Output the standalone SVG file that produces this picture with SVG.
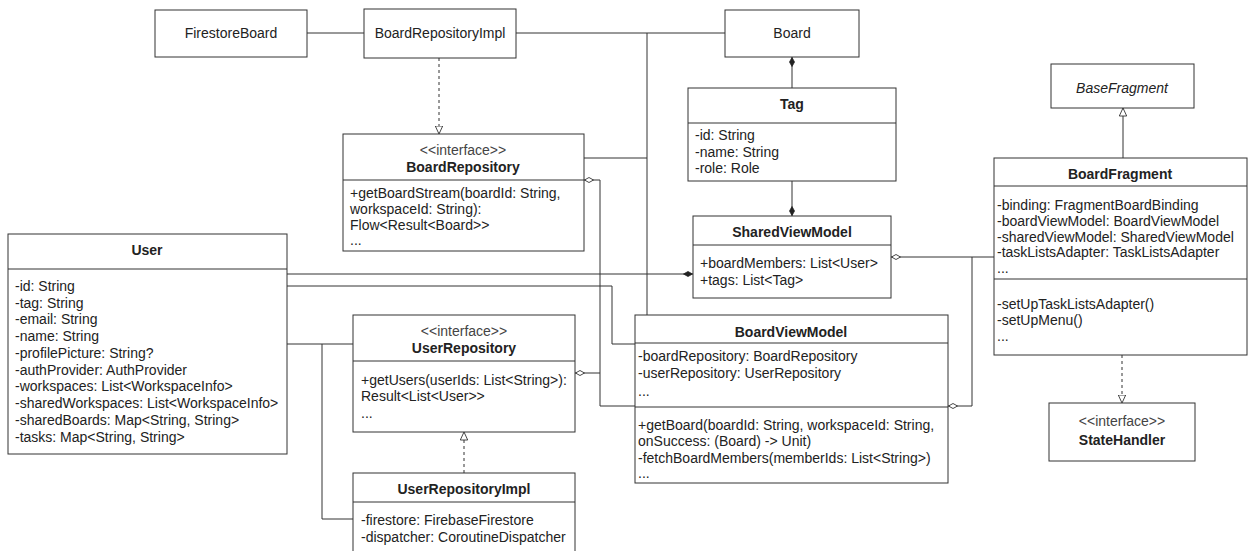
<svg xmlns="http://www.w3.org/2000/svg" width="1256" height="551" viewBox="0 0 1256 551">
<style>
.box{fill:#fff;stroke:#333;stroke-width:1}
.sep{stroke:#333;stroke-width:1}
.ln{fill:none;stroke:#333;stroke-width:1}
.dash{stroke-dasharray:3 3}
text{font-family:"Liberation Sans",Arial,sans-serif;font-size:14px;fill:#222}
.t{font-weight:bold;text-anchor:middle}
.c{text-anchor:middle}
.i{font-style:italic}
.st{fill:#444}
</style>
<defs>
<marker id="dF" viewBox="0 0 10 6" refX="0" refY="3" markerWidth="10" markerHeight="6" markerUnits="userSpaceOnUse" orient="auto"><path d="M0.5 3 L5 0.5 L9.5 3 L5 5.5 Z" fill="#222" stroke="#222" stroke-width="0.8"/></marker>
<marker id="dH" viewBox="0 0 10 6" refX="0" refY="3" markerWidth="10" markerHeight="6" markerUnits="userSpaceOnUse" orient="auto"><path d="M0.5 3 L5 0.5 L9.5 3 L5 5.5 Z" fill="#fff" stroke="#333" stroke-width="0.9"/></marker>
<marker id="tH" viewBox="0 0 9 9" refX="8.5" refY="4.5" markerWidth="9" markerHeight="9" markerUnits="userSpaceOnUse" orient="auto"><path d="M0.5 0.8 L8.5 4.5 L0.5 8.2 Z" fill="#fff" stroke="#333" stroke-width="0.9"/></marker>
</defs>

<g id="connectors">
<path class="ln" d="M307 33 H364"/>
<path class="ln" d="M516 33 H725"/>
<path class="ln" d="M647 33 V315"/>
<path class="ln" d="M584 158 H647"/>
<path class="ln dash" d="M439 58 V134" marker-end="url(#tH)"/>
<path class="ln" d="M792 57 V88" marker-start="url(#dF)"/>
<path class="ln" d="M792 216 V181" marker-start="url(#dF)"/>
<path class="ln" d="M693 274 H287" marker-start="url(#dF)"/>
<path class="ln" d="M287 286 H612 V344 H635"/>
<path class="ln" d="M584 180 H600 V406 H635" marker-start="url(#dH)"/>
<path class="ln" d="M575 373 H600" marker-start="url(#dH)"/>
<path class="ln" d="M287 344 H353"/>
<path class="ln" d="M322 344 V519 H353"/>
<path class="ln dash" d="M464 473 V432" marker-end="url(#tH)"/>
<path class="ln" d="M891 257 H994" marker-start="url(#dH)"/>
<path class="ln" d="M948 406 H972 V257" marker-start="url(#dH)"/>
<path class="ln" d="M1123 158 V108" marker-end="url(#tH)"/>
<path class="ln dash" d="M1122 355 V403" marker-end="url(#tH)"/>
</g>

<g id="FirestoreBoard">
<rect class="box" x="155" y="10" width="152" height="47"/>
<text class="c" x="231" y="38">FirestoreBoard</text>
</g>

<g id="BoardRepositoryImpl">
<rect class="box" x="364" y="9" width="152" height="49"/>
<text class="c" x="440" y="38">BoardRepositoryImpl</text>
</g>

<g id="Board">
<rect class="box" x="725" y="10" width="134" height="47"/>
<text class="c" x="792" y="38">Board</text>
</g>

<g id="Tag">
<rect class="box" x="688" y="88" width="208" height="93"/>
<line class="sep" x1="688" y1="123" x2="896" y2="123"/>
<text class="t" x="792" y="109">Tag</text>
<text x="695" y="140">-id: String</text>
<text x="695" y="157">-name: String</text>
<text x="695" y="173">-role: Role</text>
</g>

<g id="BoardRepository">
<rect class="box" x="343" y="134" width="241" height="117"/>
<line class="sep" x1="343" y1="180" x2="584" y2="180"/>
<text class="c st" x="463" y="155">&lt;&lt;interface&gt;&gt;</text>
<text class="t" x="463" y="172">BoardRepository</text>
<text x="350" y="198">+getBoardStream(boardId: String,</text>
<text x="350" y="214">workspaceId: String):</text>
<text x="350" y="230">Flow&lt;Result&lt;Board&gt;&gt;</text>
<text x="350" y="245">...</text>
</g>

<g id="SharedViewModel">
<rect class="box" x="693" y="216" width="198" height="82"/>
<line class="sep" x1="693" y1="245" x2="891" y2="245"/>
<text class="t" x="792" y="237">SharedViewModel</text>
<text x="700" y="268">+boardMembers: List&lt;User&gt;</text>
<text x="700" y="285">+tags: List&lt;Tag&gt;</text>
</g>

<g id="BaseFragment">
<rect class="box" x="1051" y="64" width="143" height="44"/>
<text class="c i" x="1122" y="93">BaseFragment</text>
</g>

<g id="BoardFragment">
<rect class="box" x="994" y="158" width="253" height="197"/>
<line class="sep" x1="994" y1="186" x2="1247" y2="186"/>
<line class="sep" x1="994" y1="279" x2="1247" y2="279"/>
<text class="t" x="1120" y="179">BoardFragment</text>
<text x="997" y="210">-binding: FragmentBoardBinding</text>
<text x="997" y="226">-boardViewModel: BoardViewModel</text>
<text x="997" y="242">-sharedViewModel: SharedViewModel</text>
<text x="997" y="257">-taskListsAdapter: TaskListsAdapter</text>
<text x="997" y="273">...</text>
<text x="997" y="309">-setUpTaskListsAdapter()</text>
<text x="997" y="325">-setUpMenu()</text>
<text x="997" y="341">...</text>
</g>

<g id="StateHandler">
<rect class="box" x="1049" y="403" width="146" height="58"/>
<text class="c st" x="1122" y="426">&lt;&lt;interface&gt;&gt;</text>
<text class="t" x="1122" y="445">StateHandler</text>
</g>

<g id="User">
<rect class="box" x="8" y="234" width="279" height="220"/>
<line class="sep" x1="8" y1="269" x2="287" y2="269"/>
<text class="t" x="147" y="255">User</text>
<text x="15" y="291">-id: String</text>
<text x="15" y="308">-tag: String</text>
<text x="15" y="324">-email: String</text>
<text x="15" y="341">-name: String</text>
<text x="15" y="358">-profilePicture: String?</text>
<text x="15" y="375">-authProvider: AuthProvider</text>
<text x="15" y="391">-workspaces: List&lt;WorkspaceInfo&gt;</text>
<text x="15" y="408">-sharedWorkspaces: List&lt;WorkspaceInfo&gt;</text>
<text x="15" y="425">-sharedBoards: Map&lt;String, String&gt;</text>
<text x="15" y="442">-tasks: Map&lt;String, String&gt;</text>
</g>

<g id="UserRepository">
<rect class="box" x="353" y="315" width="222" height="117"/>
<line class="sep" x1="353" y1="361" x2="575" y2="361"/>
<text class="c st" x="464" y="336">&lt;&lt;interface&gt;&gt;</text>
<text class="t" x="464" y="353">UserRepository</text>
<text x="361" y="385">+getUsers(userIds: List&lt;String&gt;):</text>
<text x="361" y="401">Result&lt;List&lt;User&gt;&gt;</text>
<text x="361" y="418">...</text>
</g>

<g id="UserRepositoryImpl">
<rect class="box" x="353" y="473" width="222" height="100"/>
<line class="sep" x1="353" y1="502" x2="575" y2="502"/>
<text class="t" x="464" y="494">UserRepositoryImpl</text>
<text x="361" y="525">-firestore: FirebaseFirestore</text>
<text x="361" y="542">-dispatcher: CoroutineDispatcher</text>
</g>

<g id="BoardViewModel">
<rect class="box" x="635" y="315" width="313" height="168"/>
<line class="sep" x1="635" y1="343" x2="948" y2="343"/>
<line class="sep" x1="635" y1="407" x2="948" y2="407"/>
<text class="t" x="791" y="337">BoardViewModel</text>
<text x="638" y="361">-boardRepository: BoardRepository</text>
<text x="638" y="378">-userRepository: UserRepository</text>
<text x="638" y="396">...</text>
<text x="638" y="430">+getBoard(boardId: String, workspaceId: String,</text>
<text x="638" y="446">onSuccess: (Board) -&gt; Unit)</text>
<text x="638" y="463">-fetchBoardMembers(memberIds: List&lt;String&gt;)</text>
<text x="638" y="478">...</text>
</g>
</svg>
